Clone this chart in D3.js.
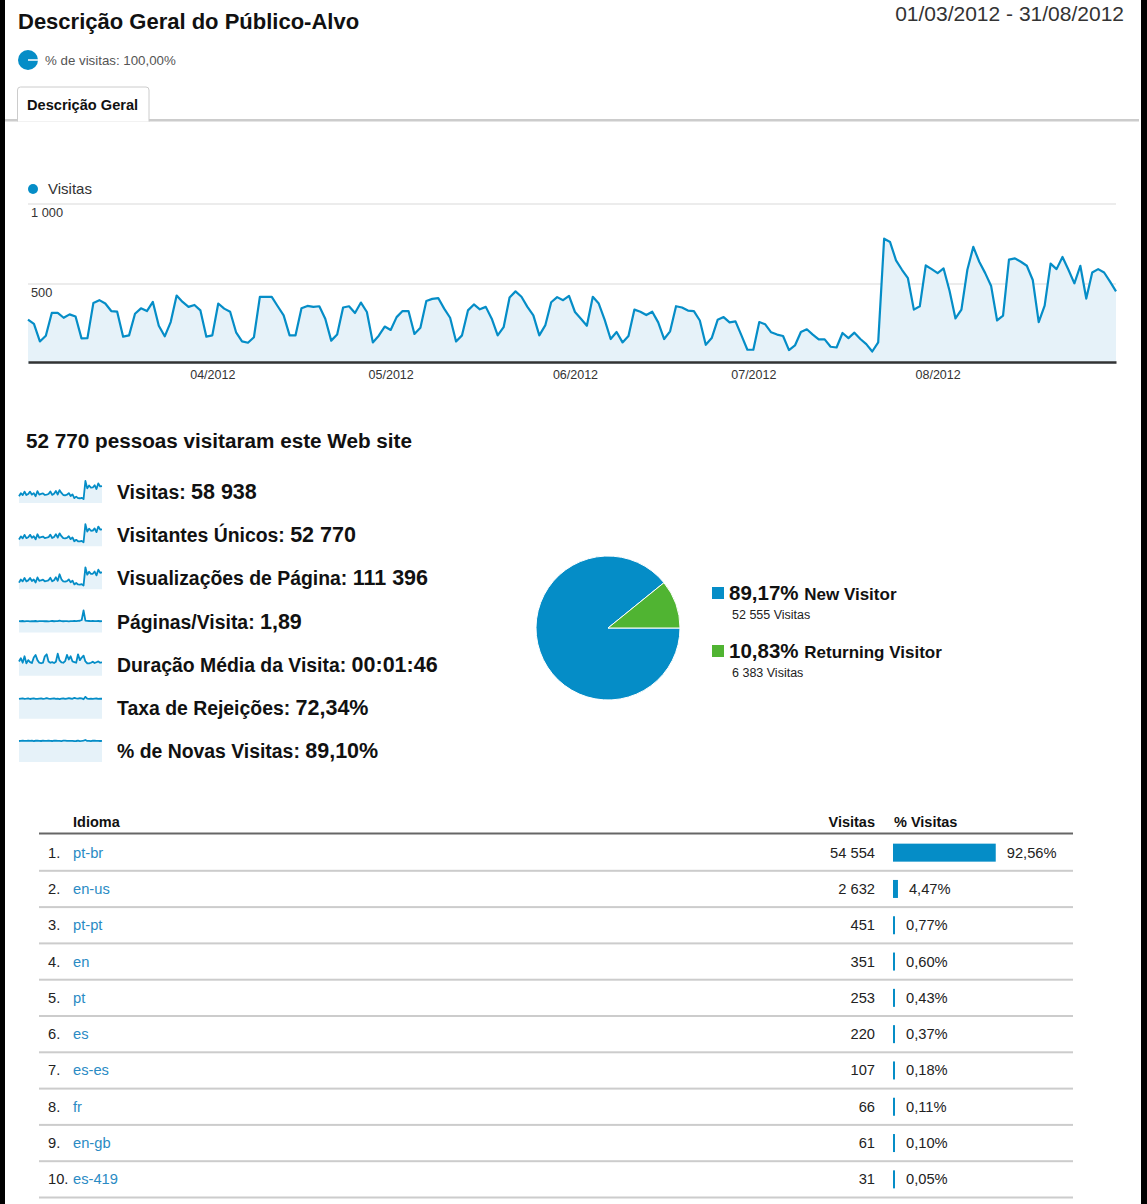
<!DOCTYPE html>
<html>
<head>
<meta charset="utf-8">
<script src="https://cdn.jsdelivr.net/npm/d3@7"></script>
<style>
html, body { margin: 0; padding: 0; background: #000; }
svg { display: block; font-family: "Liberation Sans", Arial, sans-serif; }
</style>
</head>
<body>
<svg id="page" width="1147" height="1204"></svg>
<script>
// daily visits, 01/03/2012 .. 31/08/2012
var visits = [
    278, 251, 141, 177, 319, 319, 289, 310, 297, 160,
    162, 382, 399, 378, 331, 327, 171, 179, 314, 348,
    331, 388, 239, 173, 262, 428, 388, 357, 369, 335,
    171, 179, 378, 346, 327, 198, 141, 133, 167, 420,
    420, 420, 361, 304, 179, 179, 348, 363, 357, 361,
    283, 146, 184, 353, 361, 319, 384, 325, 135, 177,
    234, 213, 293, 331, 331, 188, 226, 394, 407, 412,
    346, 289, 141, 179, 335, 372, 342, 357, 283, 179,
    230, 416, 454, 420, 357, 304, 179, 241, 386, 418,
    399, 426, 325, 283, 239, 420, 378, 276, 156, 200,
    135, 175, 340, 327, 306, 327, 260, 156, 204, 361,
    353, 334, 331, 272, 120, 162, 276, 293, 260, 266,
    179, 89, 89, 262, 248, 198, 184, 175, 87, 116,
    200, 217, 184, 154, 154, 108, 103, 194, 162, 196,
    156, 124, 78, 135, 783, 762, 648, 589, 536, 340,
    361, 616, 593, 568, 597, 458, 285, 340, 589, 732,
    639, 568, 487, 272, 302, 652, 660, 639, 614, 525,
    262, 365, 627, 593, 669, 589, 504, 614, 409, 572,
    593, 572, 515, 454
];
var startDate = new Date(2012, 2, 1);
var endDate = new Date(2012, 7, 31);
var monthTicks = [new Date(2012, 3, 1), new Date(2012, 4, 1), new Date(2012, 5, 1), new Date(2012, 6, 1), new Date(2012, 7, 1)];
var yTicks = [500, 1000];

// sparklines (coarser, every 4 days)
var sparkVisits = [212, 309, 250, 359, 253, 283, 359, 264, 312, 215, 376, 267, 287, 304, 255, 268, 285, 364, 257, 290, 380, 270, 407, 317, 253, 244, 262, 313, 221, 274, 155, 201, 155, 150, 164, 123, 696, 463, 554, 487, 492, 563, 442, 620, 525, 534];
var sparkUnique = [190, 277, 224, 321, 226, 253, 321, 236, 279, 192, 337, 239, 257, 272, 228, 240, 255, 326, 230, 260, 340, 242, 364, 284, 226, 218, 234, 280, 198, 245, 139, 180, 139, 134, 147, 110, 623, 414, 496, 436, 440, 504, 396, 555, 470, 478];
var sparkPageviews = [400, 584, 473, 679, 478, 535, 679, 499, 590, 406, 711, 505, 542, 575, 482, 507, 538, 688, 485, 548, 719, 510, 900, 600, 478, 462, 495, 592, 418, 519, 293, 380, 293, 284, 310, 232, 1315, 875, 1047, 920, 930, 1064, 835, 1172, 992, 1009];
var sparkPagesPerVisit = [1.86, 1.84, 1.88, 1.83, 1.87, 1.85, 1.82, 1.86, 1.84, 1.88, 1.83, 1.86, 1.85, 1.87, 1.84, 1.86, 1.83, 1.85, 1.88, 1.84, 1.86, 1.85, 1.95, 1.87, 1.84, 1.86, 1.85, 1.83, 1.87, 1.85, 1.88, 1.86, 1.90, 1.92, 2.05, 3.60, 1.95, 1.90, 1.88, 1.86, 1.89, 1.87, 1.85, 1.88, 1.84, 1.86];
var sparkDuration = [110, 135, 100, 150, 95, 120, 105, 98, 140, 160, 120, 100, 96, 100, 150, 165, 110, 100, 105, 98, 108, 170, 118, 102, 100, 112, 160, 125, 150, 110, 105, 100, 165, 120, 140, 155, 110, 96, 95, 100, 108, 98, 104, 110, 100, 102];
var sparkBounce = [71.5, 72.8, 73.4, 71.9, 72.3, 73.1, 71.2, 72.6, 73.8, 72.0, 71.4, 72.9, 73.3, 71.7, 72.5, 74.0, 72.2, 71.6, 72.8, 73.5, 71.9, 72.4, 70.8, 72.7, 73.2, 71.5, 72.9, 74.2, 73.0, 72.1, 75.0, 73.6, 72.4, 74.1, 73.3, 70.2, 79.0, 72.5, 71.4, 72.9, 71.7, 72.3, 73.0, 71.8, 72.6, 72.2];
var sparkNewVisits = [88.5, 89.2, 90.1, 88.7, 89.5, 90.3, 88.9, 89.8, 88.2, 89.6, 90.0, 89.1, 88.6, 89.9, 89.3, 88.8, 90.2, 89.4, 88.5, 89.7, 90.1, 88.9, 89.3, 88.4, 89.8, 90.0, 88.7, 89.5, 88.9, 89.2, 87.8, 88.6, 89.9, 88.3, 89.1, 90.4, 92.8, 88.8, 89.4, 88.2, 89.7, 90.0, 88.9, 89.3, 88.6, 89.5];

var metricLabels = ["Visitas: ", "Visitantes Únicos: ", "Visualizações de Página: ", "Páginas/Visita: ", "Duração Média da Visita: ", "Taxa de Rejeições: ", "% de Novas Visitas: "];
var metricValues = ["58 938", "52 770", "111 396", "1,89", "00:01:46", "72,34%", "89,10%"];
var metricSparks = [sparkVisits, sparkUnique, sparkPageviews, sparkPagesPerVisit, sparkDuration, sparkBounce, sparkNewVisits];

var visitorTypes = ["New Visitor", "Returning Visitor"];
var visitorCounts = [52555, 6383];
var visitorPct = [89.17, 10.83];

var languages = ["pt-br", "en-us", "pt-pt", "en", "pt", "es", "es-es", "fr", "en-gb", "es-419"];
var langVisits = [54554, 2632, 451, 351, 253, 220, 107, 66, 61, 31];
var langPct = [92.56, 4.47, 0.77, 0.60, 0.43, 0.37, 0.18, 0.11, 0.10, 0.05];

var blue = "#058dc7";
var green = "#50b432";
var locale = d3.formatLocale({ decimal: ",", thousands: " ", grouping: [3], currency: ["", ""] });
var fmtInt = locale.format(",d");
var fmtPct = locale.format(".2f");

var svg = d3.select("#page");

// page background (screenshot has black window edges)
svg.append("rect").attr("x", 5).attr("y", 0).attr("width", 1136).attr("height", 1204).attr("fill", "#fff");

// ---- header ----
svg.append("text").attr("x", 18).attr("y", 29)
    .attr("font-size", 22).attr("font-weight", "bold").attr("fill", "#111")
    .text("Descrição Geral do Público-Alvo");

svg.append("text").attr("x", 1124).attr("y", 21).attr("text-anchor", "end")
    .attr("font-size", 21).attr("fill", "#333")
    .text("01/03/2012 - 31/08/2012");

var iconArc = d3.arc().innerRadius(0).outerRadius(10);
var icon = svg.append("g").attr("transform", "translate(28,60)");
icon.selectAll("path").data(d3.pie().sort(null)([100])).join("path")
    .attr("d", iconArc).attr("fill", blue);
icon.append("line").attr("x1", 0).attr("y1", 0).attr("x2", 10).attr("y2", 0)
    .attr("stroke", "#fff").attr("stroke-width", 1.5);
svg.append("text").attr("x", 45).attr("y", 65)
    .attr("font-size", 13.3).attr("fill", "#555").text("% de visitas: 100,00%");

svg.append("rect").attr("x", 5).attr("y", 119).attr("width", 1134).attr("height", 2.5).attr("fill", "#ccc");
svg.append("path").attr("d", "M17.5,121.5V90a3,3 0 0 1 3,-3H146a3,3 0 0 1 3,3V121.5")
    .attr("fill", "#fff").attr("stroke", "#ccc").attr("stroke-width", 1);
svg.append("text").attr("x", 27).attr("y", 110)
    .attr("font-size", 14.6).attr("font-weight", "bold").attr("fill", "#111").text("Descrição Geral");

// ---- visits line chart ----
var x = d3.scaleTime().domain([startDate, endDate]).range([28, 1116]);
var y = d3.scaleLinear().domain([0, 1000]).range([364, 204]);
var days = visits.map(function (v, i) { return { date: d3.timeDay.offset(startDate, i), value: v }; });

svg.append("circle").attr("cx", 33).attr("cy", 189).attr("r", 5).attr("fill", blue);
svg.append("text").attr("x", 48).attr("y", 194).attr("font-size", 15).attr("fill", "#333").text("Visitas");

svg.append("g").selectAll("line").data(yTicks).join("line")
    .attr("x1", 28).attr("x2", 1116)
    .attr("y1", function (d) { return y(d); }).attr("y2", function (d) { return y(d); })
    .attr("stroke", "#ececec").attr("stroke-width", 2);
svg.append("g").selectAll("text").data(yTicks).join("text")
    .attr("x", 31).attr("y", function (d) { return y(d) + 13; })
    .attr("font-size", 12.8).attr("fill", "#333")
    .text(function (d) { return fmtInt(d); });

var area = d3.area().x(function (d) { return x(d.date); }).y0(y(0)).y1(function (d) { return y(d.value); });
var line = d3.line().x(function (d) { return x(d.date); }).y(function (d) { return y(d.value); });
svg.append("path").datum(days).attr("d", area).attr("fill", "#e6f2f9");
svg.append("path").datum(days).attr("d", line)
    .attr("fill", "none").attr("stroke", blue).attr("stroke-width", 2.2).attr("stroke-linejoin", "round");

var xAxis = svg.append("g").attr("transform", "translate(0,362)")
    .call(d3.axisBottom(x).tickValues(monthTicks).tickSize(0).tickPadding(8).tickFormat(d3.timeFormat("%m/%Y")));
xAxis.select(".domain").attr("stroke", "#333").attr("stroke-width", 2.5);
xAxis.selectAll("text").attr("font-size", 12.5).attr("fill", "#333")
    .attr("font-family", "Liberation Sans, Arial, sans-serif");

// ---- summary metrics ----
svg.append("text").attr("x", 26).attr("y", 448)
    .attr("font-size", 20.7).attr("font-weight", "bold").attr("fill", "#111")
    .text("52 770 pessoas visitaram este Web site");

var rowY = d3.scalePoint().domain(metricLabels).range([492, 751]);

metricLabels.forEach(function (label, k) {
    var data = metricSparks[k];
    var cy = rowY(label);
    var sxk = d3.scaleLinear().domain([0, data.length - 1]).range([19, 102]);
    var syk = d3.scaleLinear().domain([0, d3.max(data)]).range([cy + 11, cy - 11]);
    var sArea = d3.area().x(function (d, i) { return sxk(i); }).y0(cy + 11).y1(function (d) { return syk(d); });
    var sLine = d3.line().x(function (d, i) { return sxk(i); }).y(function (d) { return syk(d); });
    svg.append("path").datum(data).attr("d", sArea).attr("fill", "#e6f2f9");
    svg.append("path").datum(data).attr("d", sLine)
        .attr("fill", "none").attr("stroke", blue).attr("stroke-width", 1.8).attr("stroke-linejoin", "round");

    var t = svg.append("text").attr("x", 117).attr("y", cy + 7).attr("fill", "#111").attr("font-weight", "bold");
    t.append("tspan").attr("font-size", 19.4).text(label);
    t.append("tspan").attr("font-size", 21.5).text(metricValues[k]);
});

// ---- new vs returning pie ----
var pie = d3.pie().sort(null).startAngle(Math.PI / 2).endAngle(Math.PI / 2 + 2 * Math.PI);
var arc = d3.arc().innerRadius(0).outerRadius(72);
var pieG = svg.append("g").attr("transform", "translate(608,628)");
pieG.selectAll("path").data(pie(visitorCounts)).join("path")
    .attr("d", arc)
    .attr("fill", function (d, i) { return i == 0 ? blue : green; })
    .attr("stroke", "#fff").attr("stroke-width", 1);

var legY = d3.scalePoint().domain(visitorTypes).range([593, 651]);
visitorTypes.forEach(function (name, i) {
    var ly = legY(name);
    svg.append("rect").attr("x", 712).attr("y", ly - 6).attr("width", 12).attr("height", 12)
        .attr("fill", i == 0 ? blue : green);
    var t = svg.append("text").attr("x", 729).attr("y", ly + 7).attr("fill", "#111").attr("font-weight", "bold");
    t.append("tspan").attr("font-size", 20.5).text(fmtPct(visitorPct[i]) + "% ");
    t.append("tspan").attr("font-size", 17).text(name);
    svg.append("text").attr("x", 732).attr("y", ly + 26).attr("font-size", 12.5).attr("fill", "#222")
        .text(fmtInt(visitorCounts[i]) + " Visitas");
});

// ---- language table ----
var tY = d3.scaleBand().domain(languages).range([834.5, 834.5 + 363]);
var bw = d3.scaleLinear().domain([0, 100]).range([0, 111]);

svg.append("text").attr("x", 73).attr("y", 827).attr("font-size", 14.5).attr("font-weight", "bold").attr("fill", "#111").text("Idioma");
svg.append("text").attr("x", 875).attr("y", 827).attr("text-anchor", "end").attr("font-size", 14.5).attr("font-weight", "bold").attr("fill", "#111").text("Visitas");
svg.append("text").attr("x", 894).attr("y", 827).attr("font-size", 14.5).attr("font-weight", "bold").attr("fill", "#111").text("% Visitas");
svg.append("rect").attr("x", 39).attr("y", 832.5).attr("width", 1034).attr("height", 2).attr("fill", "#666");

var rows = svg.append("g").selectAll("g").data(languages).join("g")
    .attr("transform", function (d) { return "translate(0," + tY(d) + ")"; });
var mid = tY.bandwidth() / 2;

rows.append("rect").attr("x", 39).attr("y", tY.bandwidth() - 1).attr("width", 1034).attr("height", 2).attr("fill", "#ccc");
rows.append("text").attr("x", 48).attr("y", mid + 5).attr("font-size", 14.7).attr("fill", "#222")
    .text(function (d, i) { return (i + 1) + "."; });
rows.append("text").attr("x", 73).attr("y", mid + 5).attr("font-size", 14.7).attr("fill", "#2a8bc4")
    .text(function (d) { return d; });
rows.append("text").attr("x", 875).attr("y", mid + 5).attr("text-anchor", "end").attr("font-size", 14.7).attr("fill", "#222")
    .text(function (d, i) { return fmtInt(langVisits[i]); });
rows.append("rect").attr("x", 893).attr("y", mid - 9).attr("height", 18)
    .attr("width", function (d, i) { return Math.max(2, bw(langPct[i])); })
    .attr("fill", blue);
rows.append("text").attr("y", mid + 5).attr("font-size", 14.7).attr("fill", "#222")
    .attr("x", function (d, i) { return 893 + Math.max(2, bw(langPct[i])) + 11; })
    .text(function (d, i) { return fmtPct(langPct[i]) + "%"; });
</script>
</body>
</html>
